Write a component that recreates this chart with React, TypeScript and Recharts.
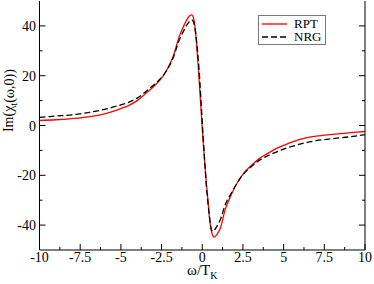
import React from 'react';
import { LineChart, Line, XAxis, YAxis, Legend, Label } from 'recharts';

const omega = [
  -10, -9, -8, -7, -6, -5, -4.5, -4, -3.5, -3, -2.6, -2.2, -1.8, -1.4, -1.1, -0.9, -0.75, -0.65,
  -0.55, -0.45, -0.35, -0.25, -0.15, -0.05, 0.05, 0.15, 0.25, 0.35, 0.45, 0.55, 0.65, 0.75, 0.9,
  1.1, 1.4, 1.8, 2.2, 2.6, 3, 3.5, 4, 4.5, 5, 6, 7, 8, 9, 10,
];
const rptValues = [
  2.0, 2.3, 2.8, 3.5, 4.7, 6.8, 8.1, 10.0, 12.7, 15.6, 18.2, 22.0, 27.5, 36.0, 40.5, 43.0, 44.2, 44.4,
  43.5, 40.0, 33.0, 24.0, 14.0, 4.0, -6.0, -15.0, -23.0, -30.0, -37.5, -42.0, -44.3, -44.8, -43.8,
  -41.5, -34.0, -27.5, -22.5, -18.7, -16.2, -13.3, -11.3, -9.4, -8.0, -5.6, -4.3, -3.6, -3.0, -2.4,
];
const nrgValues = [
  3.3, 3.8, 4.3, 5.2, 6.5, 8.3, 9.4, 11.0, 13.4, 16.2, 18.6, 22.0, 27.0, 34.5, 38.5, 40.8, 42.0, 42.4,
  41.8, 39.0, 34.0, 27.0, 18.0, 7.0, -4.0, -14.0, -24.0, -31.0, -37.0, -41.5, -42.6, -42.0, -40.5,
  -38.0, -32.0, -27.0, -22.5, -19.0, -16.6, -14.0, -12.2, -10.8, -9.5, -7.5, -6.1, -5.3, -4.6, -3.7,
];

const xMajor = [-10, -7.5, -5, -2.5, 0, 2.5, 5, 7.5, 10];
const xMinor = [-8.75, -6.25, -3.75, -1.25, 1.25, 3.75, 6.25, 8.75];
const yMajor = [-40, -20, 0, 20, 40];
const yMinor = [-30, -10, 10, 30];

const rows = omega.map((w, i) => ({ w, rpt: rptValues[i], nrg: nrgValues[i] }));
const xTicks = [...xMajor, ...xMinor].sort((a, b) => a - b);
const yTicks = [...yMajor, ...yMinor].sort((a, b) => a - b);

const FONT = "'Liberation Serif', 'DejaVu Serif', serif";

// tick marks point into the plot; only major ticks on bottom/left get numbers
const AxisTick = ({ x, y, payload, side }: any) => {
  const v = payload.value;
  const isX = side === 'bottom' || side === 'top';
  const major = isX ? xMajor.includes(v) : yMajor.includes(v);
  const len = major ? 6 : 3;
  let line;
  if (side === 'bottom') line = <line x1={x} y1={y} x2={x} y2={y - len} stroke="#000" />;
  else if (side === 'top') line = <line x1={x} y1={y} x2={x} y2={y + len} stroke="#000" />;
  else if (side === 'left') line = <line x1={x} y1={y} x2={x + len} y2={y} stroke="#000" />;
  else line = <line x1={x} y1={y} x2={x - len} y2={y} stroke="#000" />;
  return (
    <g>
      {line}
      {major && side === 'bottom' && (
        <text x={x} y={y + 12} textAnchor="middle" fontSize={14} fontFamily={FONT} fill="#000">
          {String(v)}
        </text>
      )}
      {major && side === 'left' && (
        <text x={x - 3.5} y={y + 5} textAnchor="end" fontSize={14} fontFamily={FONT} fill="#000">
          {String(v)}
        </text>
      )}
    </g>
  );
};

const XTitle = ({ viewBox }: any) => {
  const cx = viewBox.x + viewBox.width / 2;
  const by = viewBox.y + 25;
  return (
    <text x={cx} y={by} textAnchor="middle" fontSize={15} fontFamily={FONT} fill="#000">
      ω/T<tspan fontSize={10} dy={4}>K</tspan>
    </text>
  );
};

const YTitle = ({ viewBox }: any) => {
  const cx = viewBox.x + 9;
  const cy = viewBox.y + viewBox.height * 0.4;
  return (
    <text
      x={cx}
      y={cy}
      transform={`rotate(-90 ${cx} ${cy})`}
      textAnchor="middle"
      dominantBaseline="central"
      fontSize={14}
      fontFamily={FONT}
      fill="#000"
    >
      Im(χ<tspan fontSize={10} dy={4}>t</tspan>
      <tspan dy={-4}>(ω,0))</tspan>
    </text>
  );
};

const legendItems = [
  { name: 'RPT', color: '#ff0000', dash: undefined },
  { name: 'NRG', color: '#000000', dash: '6 3' },
];

const LegendBox = () => (
  <div
    style={{
      width: 68,
      boxSizing: 'border-box',
      border: '1px solid #777',
      background: '#fff',
      padding: '1px 0 1px 3px',
      fontFamily: FONT,
      fontSize: 13,
      color: '#000',
    }}
  >
    {legendItems.map((it) => (
      <div key={it.name} style={{ display: 'flex', alignItems: 'center', height: 13 }}>
        <svg width={25} height={4} style={{ display: 'block' }}>
          <line x1={0} y1={2} x2={25} y2={2} stroke={it.color} strokeWidth={1.3} strokeDasharray={it.dash} />
        </svg>
        <span style={{ marginLeft: 7, lineHeight: '13px' }}>{it.name}</span>
      </div>
    ))}
  </div>
);

export default function App() {
  return (
    <div style={{ position: 'absolute', left: 0, top: 0, background: '#fff' }}>
      <LineChart width={374} height={284} data={rows} margin={{ top: 1, right: 0, bottom: 0, left: 0 }}>
        <XAxis
          xAxisId="bottom"
          orientation="bottom"
          dataKey="w"
          type="number"
          domain={[-10, 10]}
          allowDataOverflow
          ticks={xTicks}
          interval={0}
          height={34}
          tickSize={0}
          tickMargin={0}
          tickLine={false}
          axisLine={{ stroke: '#000' }}
          tick={(p: any) => <AxisTick {...p} side="bottom" />}
        >
          <Label content={XTitle} />
        </XAxis>
        <XAxis
          xAxisId="top"
          orientation="top"
          dataKey="w"
          type="number"
          domain={[-10, 10]}
          allowDataOverflow
          ticks={xTicks}
          interval={0}
          height={0}
          tickSize={0}
          tickMargin={0}
          tickLine={false}
          axisLine={{ stroke: '#000' }}
          tick={(p: any) => <AxisTick {...p} side="top" />}
        />
        <YAxis
          yAxisId="left"
          orientation="left"
          type="number"
          domain={[-50, 50]}
          allowDataOverflow
          ticks={yTicks}
          interval={0}
          width={39.5}
          tickSize={0}
          tickMargin={0}
          tickLine={false}
          axisLine={{ stroke: '#000' }}
          tick={(p: any) => <AxisTick {...p} side="left" />}
        >
          <Label content={YTitle} />
        </YAxis>
        <YAxis
          yAxisId="right"
          orientation="right"
          type="number"
          domain={[-50, 50]}
          allowDataOverflow
          ticks={yTicks}
          interval={0}
          width={9}
          tickSize={0}
          tickMargin={0}
          tickLine={false}
          axisLine={{ stroke: '#000' }}
          tick={(p: any) => <AxisTick {...p} side="right" />}
        />
        <Legend
          layout="horizontal"
          verticalAlign="middle"
          align="center"
          content={() => <LegendBox />}
          wrapperStyle={{ left: 258, top: 15, width: 68 }}
        />
        <Line
          xAxisId="bottom"
          yAxisId="left"
          type="monotone"
          dataKey="rpt"
          name="RPT"
          stroke="#ff0000"
          strokeWidth={1.3}
          dot={false}
          isAnimationActive={false}
        />
        <Line
          xAxisId="top"
          yAxisId="right"
          type="monotone"
          dataKey="nrg"
          name="NRG"
          stroke="#000000"
          strokeWidth={1.3}
          strokeDasharray="6 3"
          dot={false}
          isAnimationActive={false}
        />
      </LineChart>
    </div>
  );
}
